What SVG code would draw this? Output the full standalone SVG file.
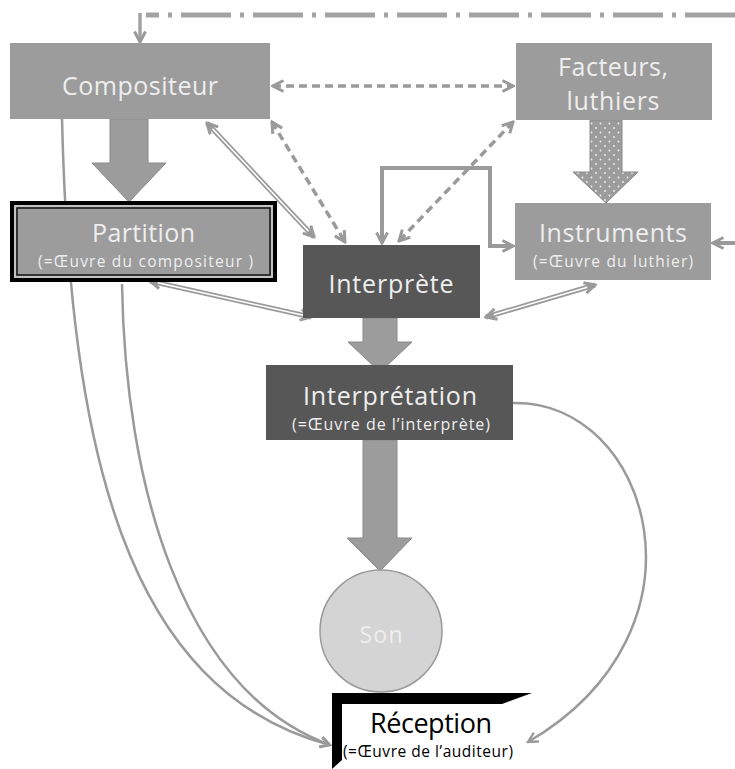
<svg xmlns="http://www.w3.org/2000/svg" width="735" height="769" viewBox="0 0 735 769">
<defs>
<style>
.box{fill:#9c9c9c;}
.dark{fill:#575757;}
.lbl{font-family:"Open Sans","DejaVu Sans",sans-serif;fill:#eeeeee;text-anchor:middle;}
.big{font-size:25px;}
.small{font-size:15.5px;}
.fat{fill:#9c9c9c;stroke:#8a8a8a;stroke-width:1;}
.dbl{stroke:#9a9a9a;stroke-width:5;fill:none;}
.dblw{stroke:#ffffff;stroke-width:1.6;fill:none;}
.dash{stroke:#9a9a9a;stroke-width:3.5;stroke-dasharray:8 5;fill:none;}
.curve{stroke:#9a9a9a;stroke-width:2.5;fill:none;}
</style>
<marker id="ah" viewBox="0 0 14 14" refX="12" refY="7" markerWidth="14" markerHeight="14" markerUnits="userSpaceOnUse" orient="auto-start-reverse">
<path d="M1.5,1.5 L12,7 L1.5,12.5" fill="none" stroke="#9a9a9a" stroke-width="3" stroke-linejoin="miter"/>
</marker>
<marker id="ahs" viewBox="0 0 14 14" refX="12" refY="7" markerWidth="13" markerHeight="13" markerUnits="userSpaceOnUse" orient="auto-start-reverse">
<path d="M1.5,1.5 L12,7 L1.5,12.5" fill="none" stroke="#9a9a9a" stroke-width="2.5"/>
</marker>
<pattern id="dots" width="9" height="9" patternUnits="userSpaceOnUse">
<rect width="9" height="9" fill="#9c9c9c"/>
<circle cx="2" cy="2" r="0.9" fill="#f2f2f2"/>
<circle cx="6.5" cy="6.5" r="0.9" fill="#f2f2f2"/>
</pattern>
</defs>
<rect width="735" height="769" fill="#ffffff"/>

<g id="connectors">
<path d="M735,15 H146" stroke="#a3a3a3" stroke-width="5" stroke-dasharray="50 9 4 9" fill="none"/>
<path d="M140,13 V42" stroke="#a3a3a3" stroke-width="3.5" fill="none" marker-end="url(#ah)"/>
<path d="M735,243 H713" stroke="#9a9a9a" stroke-width="4" fill="none" marker-end="url(#ah)"/>
<path class="dash" d="M273,86 H513" marker-start="url(#ah)" marker-end="url(#ah)"/>
<path class="dash" d="M272,122 L345,242" marker-start="url(#ah)" marker-end="url(#ah)"/>
<path class="dash" d="M513,122 L399,241" marker-start="url(#ah)" marker-end="url(#ah)"/>
<path d="M382,243 V168 H490 V246 H513" stroke="#9a9a9a" stroke-width="4" fill="none" marker-start="url(#ah)" marker-end="url(#ah)"/>
<path class="dbl" d="M207,123 L314,237" marker-start="url(#ah)" marker-end="url(#ah)"/>
<path class="dblw" d="M212.5,128.8 L308.5,231.2"/>
<path class="dbl" d="M150,281 L311,317" marker-start="url(#ah)" marker-end="url(#ah)"/>
<path class="dblw" d="M157.8,282.7 L303.2,315.3"/>
<path class="dbl" d="M595,285 L486,317" marker-start="url(#ah)" marker-end="url(#ah)"/>
<path class="dblw" d="M587.3,287.3 L493.7,314.7"/>
<path class="curve" d="M62,119 C70,450 125,690 330,745" marker-end="url(#ahs)"/>
<path class="curve" d="M122,284 C125,480 180,690 330,745" marker-end="url(#ahs)"/>
<path class="curve" d="M513,403 C650,400 720,630 528,742" marker-end="url(#ahs)"/>
<polygon class="fat" points="110,119 148,119 148,163 166,163 129,202 92,163 110,163"/>
<polygon points="590,120 622,120 622,172 638,172 606,203 573,172 590,172" fill="url(#dots)" stroke="#8a8a8a" stroke-width="1"/>
<polygon class="fat" points="363,318 397,318 397,342 412,342 380,372 348,342 363,342"/>
<polygon class="fat" points="363,440 397,440 397,538 412,538 380,571 347,538 363,538"/>
</g>

<g id="compositeur">
<rect class="box" x="10" y="43" width="260" height="76"/>
<text class="lbl big" x="140" y="95" textLength="156">Compositeur</text>
</g>

<g id="facteurs">
<rect class="box" x="516" y="43" width="196" height="77"/>
<text class="lbl big" x="613" y="76" textLength="110">Facteurs,</text>
<text class="lbl big" x="613" y="110" textLength="93">luthiers</text>
</g>

<g id="partition">
<rect x="12" y="203" width="263" height="77" fill="#9c9c9c" stroke="#000000" stroke-width="4"/>
<rect x="15" y="206" width="257" height="71" fill="none" stroke="#cfcfcf" stroke-width="1.5"/>
<rect x="17" y="208" width="253" height="67" fill="none" stroke="#111111" stroke-width="1.5"/>
<text class="lbl big" x="143.5" y="242" textLength="103">Partition</text>
<text class="lbl small" x="145.5" y="267" textLength="215">(=Œuvre du compositeur )</text>
</g>

<g id="instruments">
<rect class="box" x="515" y="203" width="196" height="77"/>
<text class="lbl big" x="613" y="242" textLength="148">Instruments</text>
<text class="lbl small" x="613" y="267" textLength="160">(=Œuvre du luthier)</text>
</g>

<g id="interprete">
<rect class="dark" x="303" y="245" width="177" height="73"/>
<text class="lbl big" x="391" y="293" textLength="125">Interprète</text>
</g>

<g id="interpretation">
<rect class="dark" x="266" y="365" width="247" height="75"/>
<text class="lbl big" x="390" y="405" textLength="174">Interprétation</text>
<text class="lbl" x="391" y="430" font-size="16" textLength="198">(=Œuvre de l’interprète)</text>
</g>

<g id="son">
<circle cx="381" cy="631" r="61" fill="#d4d4d4" stroke="#9a9a9a" stroke-width="1.5"/>
<text class="lbl" x="381" y="643" font-size="23" fill="#f4f4f4" textLength="43">Son</text>
</g>

<g id="reception">
<polygon points="332,693 532,693 502,704 342,704 342,760 332,769" fill="#000000"/>
<text x="431" y="733" font-family="'Open Sans','DejaVu Sans',sans-serif" font-size="27" fill="#000000" text-anchor="middle" textLength="122">Réception</text>
<text x="428" y="757" font-family="'Open Sans','DejaVu Sans',sans-serif" font-size="15.5" fill="#000000" text-anchor="middle" textLength="170">(=Œuvre de l’auditeur)</text>
</g>
</svg>
